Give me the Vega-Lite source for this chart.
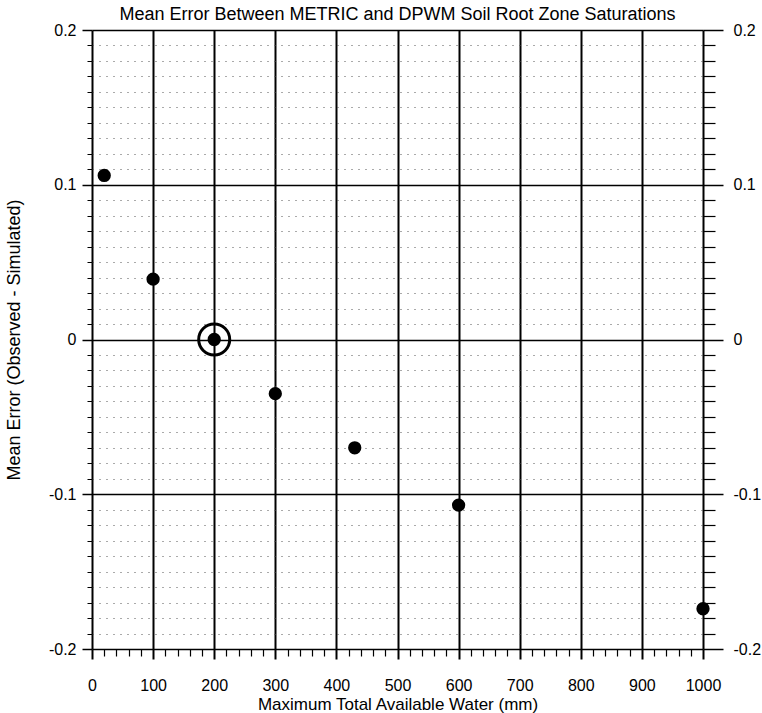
{
  "$schema": "https://vega.github.io/schema/vega-lite/v6.json",
  "width": 611,
  "height": 619,
  "autosize": {"type": "none"},
  "padding": {"left": 92, "top": 30, "right": 59, "bottom": 64},
  "background": "white",
  "config": {
    "view": {"stroke": null},
    "font": "Liberation Sans",
    "axis": {"labelFont": "Liberation Sans", "titleFont": "Liberation Sans", "labelColor": "black", "titleColor": "black", "titleFontWeight": "normal", "labelFontSize": 16, "titleFontSize": 17}
  },
  "title": {
    "text": "Mean Error Between METRIC and DPWM Soil Root Zone Saturations",
    "font": "Liberation Sans",
    "fontSize": 18,
    "fontWeight": "normal",
    "color": "black",
    "anchor": "middle",
    "offset": -2
  },
  "data": {
    "values": [
      {"taw": 20, "me": 0.106, "hl": false},
      {"taw": 100, "me": 0.039, "hl": false},
      {"taw": 200, "me": 0.0, "hl": true},
      {"taw": 300, "me": -0.035, "hl": false},
      {"taw": 430, "me": -0.07, "hl": false},
      {"taw": 600, "me": -0.107, "hl": false},
      {"taw": 1000, "me": -0.174, "hl": false}
    ]
  },
  "encoding": {
    "x": {
      "field": "taw", "type": "quantitative",
      "scale": {"domain": [0, 1000], "nice": false, "zero": false},
      "axis": {
        "title": "Maximum Total Available Water (mm)",
        "values": [0,20,40,60,80,100,120,140,160,180,200,220,240,260,280,300,320,340,360,380,400,420,440,460,480,500,520,540,560,580,600,620,640,660,680,700,720,740,760,780,800,820,840,860,880,900,920,940,960,980,1000],
        "labelExpr": "datum.value % 100 === 0 ? '' + datum.value : ''",
        "labelPadding": 18,
        "labelFlush": false,
        "labelOverlap": false,
        "domain": false,
        "tickColor": "black",
        "tickSize": {"condition": {"test": "datum.value % 100 === 0", "value": 10}, "value": 7},
        "tickWidth": {"condition": {"test": "datum.value % 100 === 0", "value": 2}, "value": 1.2},
        "grid": true,
        "gridColor": "black",
        "gridWidth": 2,
        "gridOpacity": {"condition": {"test": "datum.value % 100 === 0", "value": 1}, "value": 0},
        "titlePadding": 3
      }
    }
  },
  "resolve": {"axis": {"y": "independent"}},
  "layer": [
    {
      "mark": {"type": "point", "filled": true, "color": "black", "opacity": 1, "size": 177},
      "encoding": {
        "y": {
          "field": "me", "type": "quantitative",
          "scale": {"domain": [-0.2, 0.2], "nice": false, "zero": false},
          "axis": {
            "orient": "left",
            "title": "Mean Error (Observed - Simulated)",
            "titleFontSize": 18,
            "values": [-0.2,-0.19,-0.18,-0.17,-0.16,-0.15,-0.14,-0.13,-0.12,-0.11,-0.1,-0.09,-0.08,-0.07,-0.06,-0.05,-0.04,-0.03,-0.02,-0.01,0,0.01,0.02,0.03,0.04,0.05,0.06,0.07,0.08,0.09,0.1,0.11,0.12,0.13,0.14,0.15,0.16,0.17,0.18,0.19,0.2],
            "labelExpr": "abs(datum.value*10 - round(datum.value*10)) < 0.001 ? (round(datum.value*10) == 0 ? '0' : (datum.value < 0 ? '-' : '') + '0.' + abs(round(datum.value*10))) : ''",
            "labelOverlap": false,
            "labelFlush": false,
            "labelPadding": 6,
            "domain": false,
            "tickColor": "black",
            "tickSize": {"condition": {"test": "abs(datum.value*10 - round(datum.value*10)) < 0.001", "value": 10}, "value": 5},
            "tickWidth": {"condition": {"test": "abs(datum.value*10 - round(datum.value*10)) < 0.001", "value": 1.5}, "value": 1},
            "grid": true,
            "gridColor": {"condition": {"test": "abs(datum.value*10 - round(datum.value*10)) < 0.001", "value": "black"}, "value": "#555"},
            "gridDash": {"condition": {"test": "abs(datum.value*10 - round(datum.value*10)) < 0.001", "value": []}, "value": [1, 6]},
            "gridWidth": {"condition": {"test": "abs(datum.value*10 - round(datum.value*10)) < 0.001", "value": 1.5}, "value": 1},
            "titlePadding": 25
          }
        }
      }
    },
    {
      "transform": [{"filter": "datum.hl"}],
      "mark": {"type": "point", "filled": false, "color": "black", "opacity": 1, "size": 962, "strokeWidth": 3},
      "encoding": {
        "y": {
          "field": "me", "type": "quantitative",
          "axis": {
            "orient": "right",
            "title": null,
            "values": [-0.2,-0.19,-0.18,-0.17,-0.16,-0.15,-0.14,-0.13,-0.12,-0.11,-0.1,-0.09,-0.08,-0.07,-0.06,-0.05,-0.04,-0.03,-0.02,-0.01,0,0.01,0.02,0.03,0.04,0.05,0.06,0.07,0.08,0.09,0.1,0.11,0.12,0.13,0.14,0.15,0.16,0.17,0.18,0.19,0.2],
            "labelExpr": "abs(datum.value*10 - round(datum.value*10)) < 0.001 ? (round(datum.value*10) == 0 ? '0' : (datum.value < 0 ? '-' : '') + '0.' + abs(round(datum.value*10))) : ''",
            "labelOverlap": false,
            "labelFlush": false,
            "labelPadding": 10,
            "domain": false,
            "grid": false,
            "tickColor": "black",
            "tickSize": {"condition": {"test": "abs(datum.value*10 - round(datum.value*10)) < 0.001", "value": 20}, "value": 12},
            "tickWidth": {"condition": {"test": "abs(datum.value*10 - round(datum.value*10)) < 0.001", "value": 1.5}, "value": 1.2}
          }
        }
      }
    }
  ]
}
